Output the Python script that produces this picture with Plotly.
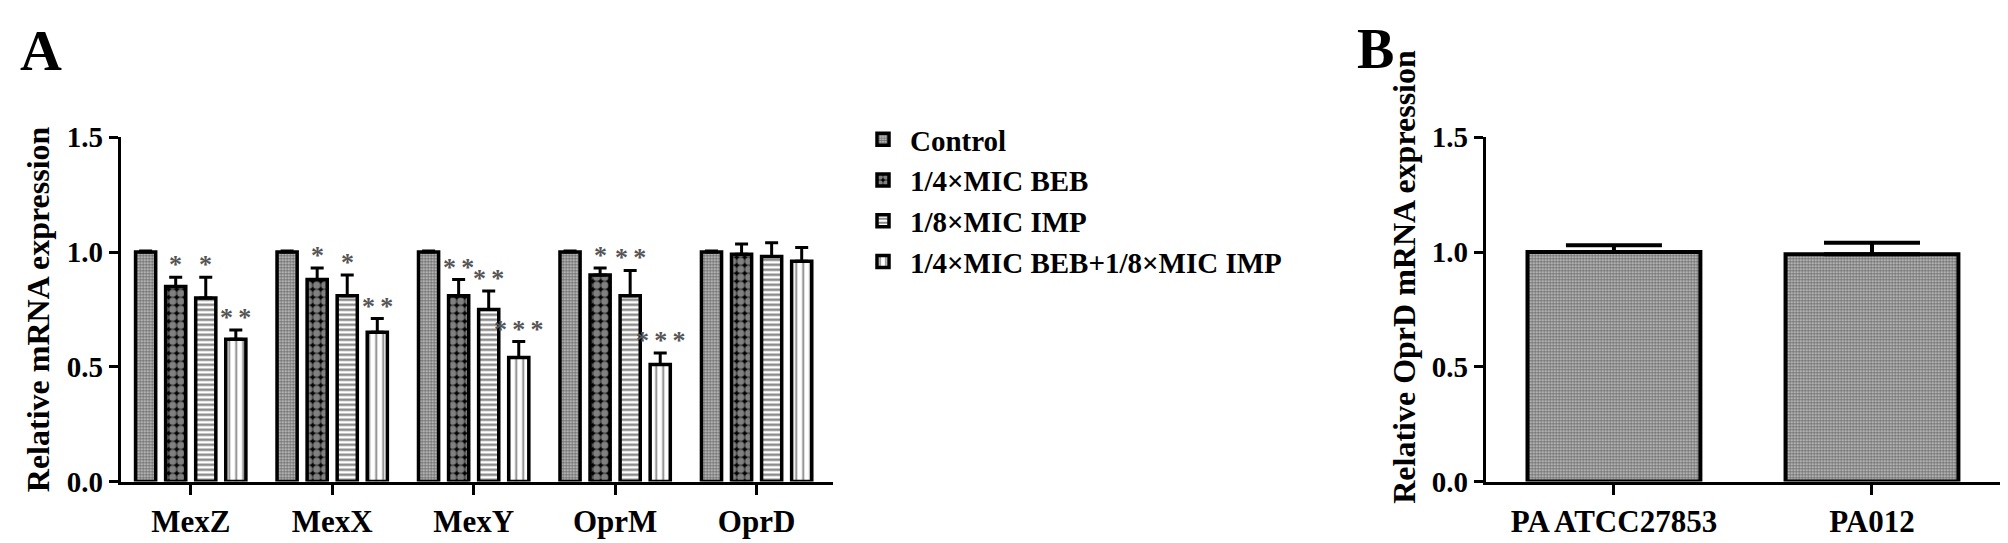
import plotly.graph_objects as go

# ---------------- data ----------------
genes = ["MexZ", "MexX", "MexY", "OprM", "OprD"]
series_names = ["Control", "1/4×MIC BEB", "1/8×MIC IMP", "1/4×MIC BEB+1/8×MIC IMP"]

control_vals = [1.00, 1.00, 1.00, 1.00, 1.00]
control_err = [0.004, 0.004, 0.004, 0.004, 0.004]
beb_vals = [0.85, 0.88, 0.81, 0.90, 0.99]
beb_err = [0.04, 0.05, 0.07, 0.03, 0.045]
imp_vals = [0.80, 0.81, 0.75, 0.81, 0.98]
imp_err = [0.09, 0.09, 0.08, 0.11, 0.06]
combo_vals = [0.62, 0.65, 0.54, 0.51, 0.96]
combo_err = [0.04, 0.06, 0.07, 0.05, 0.06]

beb_sig = ["*", "*", "**", "*", ""]
imp_sig = ["*", "*", "**", "**", ""]
combo_sig = ["**", "**", "***", "***", ""]

strains = ["PA ATCC27853", "PA012"]
oprd_vals = [1.00, 0.99]
oprd_err = [0.03, 0.05]

y_ticks = [0.0, 0.5, 1.0, 1.5]
y_tick_text = ["0.0", "0.5", "1.0", "1.5"]

# ---------------- styling ----------------
FONT = "Liberation Serif"
BARGAP = 0.15
patterns = [
    dict(shape=".", size=3, solidity=0.55, fgcolor="black", bgcolor="#d0d0d0"),
    dict(shape=".", size=8, solidity=0.68, fgcolor="white", bgcolor="black"),
    dict(shape="-", size=5, solidity=0.45, fgcolor="black", bgcolor="white"),
    dict(shape="|", size=7, solidity=0.25, fgcolor="black", bgcolor="white"),
]

all_vals = [control_vals, beb_vals, imp_vals, combo_vals]
all_errs = [control_err, beb_err, imp_err, combo_err]
all_sigs = [None, beb_sig, imp_sig, combo_sig]

fig = go.Figure()
for j, (name, vals, errs) in enumerate(zip(series_names, all_vals, all_errs)):
    fig.add_trace(go.Bar(
        x=genes, y=vals, name=name, xaxis="x", yaxis="y",
        marker=dict(color="white", pattern=patterns[j],
                    line=dict(color="black", width=3.5)),
        error_y=dict(type="data", array=errs, arrayminus=[0] * len(errs),
                     symmetric=False, color="black", thickness=3, width=6.5),
        showlegend=True,
    ))

fig.add_trace(go.Bar(
    x=strains, y=oprd_vals, xaxis="x2", yaxis="y2", showlegend=False,
    width=0.67,
    marker=dict(color="white", pattern=dict(shape=".", size=3, solidity=0.55,
                                            fgcolor="black", bgcolor="#d0d0d0"),
                line=dict(color="black", width=4)),
    error_y=dict(type="data", array=oprd_err, arrayminus=[0, 0], symmetric=False,
                 color="black", thickness=4, width=48),
))

# significance stars (spaced asterisks)
slot = (1 - BARGAP) / len(series_names)
annotations = []
for j in range(1, 4):
    for i, g in enumerate(genes):
        txt = all_sigs[j][i]
        if not txt:
            continue
        annotations.append(dict(
            x=i + (j - 1.5) * slot, y=all_vals[j][i] + all_errs[j][i],
            xref="x", yref="y", text="\u2009".join(txt), showarrow=False,
            yanchor="bottom", xanchor="center", yshift=-4,
            font=dict(family=FONT, size=26, color="#555555", weight="bold"),
        ))

annotations.append(dict(x=10 / 2008, y=1 - 8 / 543, xref="paper", yref="paper",
                        text="A", showarrow=False, xanchor="left", yanchor="top",
                        font=dict(family=FONT, size=58, color="black", weight="bold")))
annotations.append(dict(x=1347 / 2008, y=1 - 8 / 543, xref="paper", yref="paper",
                        text="B", showarrow=False, xanchor="left", yanchor="top",
                        font=dict(family=FONT, size=56, color="black", weight="bold")))

titlefont = dict(family=FONT, size=32, color="black", weight="bold")
# Panel B axis title (placed slightly above the axis centre, as in the reference)
annotations.append(dict(x=1396 / 2008, y=0.505, xref="paper", yref="paper",
                        text="Relative OprD mRNA expression", textangle=-90,
                        showarrow=False, xanchor="center", yanchor="middle",
                        font=titlefont))

tickfont_y = dict(family=FONT, size=29, color="black", weight="bold")
tickfont_x = dict(family=FONT, size=31, color="black", weight="bold")
ydom = [1 - 473.5 / 543, 1 - 129.3 / 543]

yax = dict(range=[0, 1.5], tickvals=y_ticks, ticktext=y_tick_text,
           showline=True, linecolor="black", linewidth=3, ticks="outside",
           ticklen=9, tickwidth=3, tickcolor="black", showgrid=False,
           zeroline=False, tickfont=tickfont_y, domain=ydom, automargin=False)

fig.update_layout(
    width=2008, height=543,
    margin=dict(l=0, r=0, t=0, b=0),
    paper_bgcolor="white", plot_bgcolor="white",
    barmode="group", bargap=BARGAP, bargroupgap=0.33,
    xaxis=dict(domain=[112.7 / 2008, 825 / 2008], range=[-0.495, 4.54],
               showline=True, linecolor="black", linewidth=3, ticks="outside",
               ticklen=10, tickwidth=3, tickcolor="black", tickfont=tickfont_x,
               anchor="y", automargin=False),
    yaxis=dict(**yax, anchor="x",
               title=dict(text="Relative mRNA expression", font=titlefont, standoff=8)),
    xaxis2=dict(domain=[1477.7 / 2008, 1993 / 2008], range=[-0.497, 1.5],
                showline=True, linecolor="black", linewidth=3, ticks="outside",
                ticklen=10, tickwidth=3, tickcolor="black", tickfont=tickfont_x,
                anchor="y2", automargin=False),
    yaxis2=dict(**yax, anchor="x2"),
    legend=dict(x=848 / 2008, y=1 - 106 / 543, xanchor="left", yanchor="top",
                font=dict(family=FONT, size=29, color="black", weight="bold"),
                bgcolor="rgba(0,0,0,0)", itemwidth=44, tracegroupgap=0,
                traceorder="normal"),
    annotations=annotations,
)

fig.write_html("out.html")
